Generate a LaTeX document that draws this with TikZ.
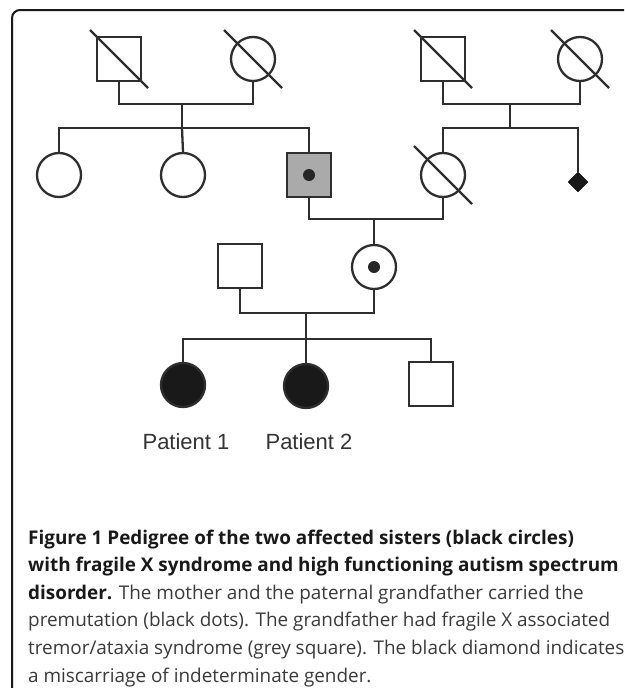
\documentclass[tikz,border=0pt]{standalone}
\usepackage{fontspec}
\newfontfamily\labelfont{Liberation Sans}
\newfontfamily\capfont{Open Sans}
\usetikzlibrary{shapes.geometric}
\definecolor{pedline}{HTML}{2E2E2E}
\definecolor{tremor}{HTML}{AAAAAA}
\definecolor{captext}{HTML}{3A3A3A}
\tikzset{
	male/.style={draw=pedline, line width=2.3pt, rectangle, minimum size=44pt, inner sep=0pt},
	female/.style={draw=pedline, line width=2.3pt, circle, minimum size=44pt, inner sep=0pt},
	carrier/.style={path picture={\fill[black!85] (path picture bounding box.center) circle (6pt);}},
	lost/.style={draw=black, fill=black!90, diamond, minimum size=20pt, inner sep=0pt},
	link/.style={draw=pedline, line width=2.3pt},
}
\begin{document}
\begin{tikzpicture}[x=1pt, y=-1pt]
\pgfmathsetmacro{\slash}{29}
\useasboundingbox (0,0) rectangle (624,688);
\draw[black!90, line width=2pt, rounded corners=8pt] (624,10) -- (12,10) -- (12,688);

% first generation
\node[male] (gfa) at (119,59) {};
\node[female] (gma) at (253,59) {};
\node[male] (gfb) at (443,59) {};
\node[female] (gmb) at (580,59) {};
\foreach \n in {gfa, gma, gfb, gmb}{
	\draw[link] ([shift={(-\slash,-\slash)}]\n.center) -- ([shift={(\slash,\slash)}]\n.center);
}
\coordinate (mating1) at (182,104);
\coordinate (sibs1) at (182,128);
\coordinate (mating2) at (510,104);
\coordinate (sibs2) at (510,128);
\draw[link] (gfa.south) |- (mating1) -| (gma.south);
\draw[link] (gfb.south) |- (mating2) -| (gmb.south);
\draw[link] (mating1) -- (sibs1);
\draw[link] (mating2) -- (sibs2);

% second generation
\node[female] (aunta) at (59,175) {};
\node[female] (auntb) at (183,175) {};
\node[male, fill=tremor, carrier] (grandpa) at (309,175) {};
\node[female] (grandma) at (443,175) {};
\node[lost] (miscarriage) at (578,182) {};
\draw[link] ([shift={(-\slash,-\slash)}]grandma.center) -- ([shift={(\slash,\slash)}]grandma.center);
\draw[link] (aunta.north) |- (sibs1) -| (grandpa.north);
\draw[link] (sibs1) -- (auntb.north);
\draw[link] (grandma.north) |- (sibs2) -| (miscarriage.north);
\coordinate (mating3) at (374,219);
\draw[link] (grandpa.south) |- (mating3) -| (grandma.south);

% third generation
\node[male] (father) at (240,266) {};
\node[female, carrier] (mother) at (374,267) {};
\draw[link] (mating3) -- (mother.north);
\coordinate (mating4) at (306,313);
\coordinate (sibs4) at (306,339);
\draw[link] (father.south) |- (mating4) -| (mother.south);
\draw[link] (mating4) -- (sibs4);

% fourth generation
\node[female, fill=black!90] (patienta) at (183,385) {};
\node[female, fill=black!90] (patientb) at (306,386) {};
\node[male] (brother) at (431,384) {};
\draw[link] (patienta.north) |- (sibs4) -| (brother.north);
\draw[link] (sibs4) -- (patientb.north);
\node[font=\labelfont\fontsize{22}{26}\selectfont, text=black!80] (labela) at (186,442) {Patient 1};
\node[font=\labelfont\fontsize{22}{26}\selectfont, text=black!80] (labelb) at (309,442) {Patient 2};

% caption
\node[anchor=base west, align=left, inner sep=0pt, text=captext, font=\capfont\fontsize{18.9}{27.6}\selectfont] (caption) at (28,682) {%
\textbf{\color{black!90}Figure 1 Pedigree of the two affected sisters (black circles)}\\
\textbf{\color{black!90}with fragile X syndrome and high functioning autism spectrum}\\
\textbf{\color{black!90}disorder.} The mother and the paternal grandfather carried the\\
premutation (black dots). The grandfather had fragile X associated\\
tremor/ataxia syndrome (grey square). The black diamond indicates\\
a miscarriage of indeterminate gender.};
\end{tikzpicture}
\end{document}
